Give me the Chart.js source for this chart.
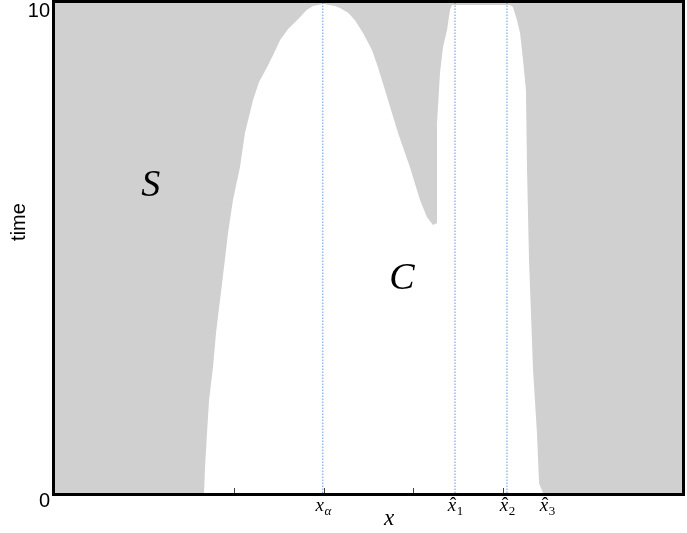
<!DOCTYPE html>
<html>
<head>
<meta charset="utf-8">
<script src="https://cdn.jsdelivr.net/npm/chart.js@4"></script>
<style>
  html, body { margin: 0; padding: 0; background: #fff; }
  #wrap { width: 687px; height: 533px; }
</style>
</head>
<body>
<div id="wrap"><canvas id="chart"></canvas></div>
<script>
const GRAY = '#d0d0d0';
const DOT_COLOR = 'rgba(70, 135, 215, 0.85)';

// upper edge of the white region C (below it), gray region S above
const boundaryX = [1.664, 1.675, 1.697, 1.720, 1.764, 1.798, 1.842, 1.887, 1.932, 1.987, 2.065, 2.121, 2.211, 2.278, 2.367, 2.446, 2.512, 2.602, 2.702, 2.813, 2.880, 2.992, 3.126,
  3.182, 3.272, 3.349, 3.439, 3.539, 3.606, 3.718, 3.829, 3.963, 4.075, 4.153, 4.220, 4.265, 4.265, 4.298, 4.332, 4.377, 4.410, 4.432,
  5.080, 5.113, 5.158, 5.192, 5.225, 5.258, 5.270, 5.292, 5.337, 5.381, 5.404, 5.448];
const boundaryT = [0, 0.53, 1.22, 1.90, 2.57, 3.27, 3.94, 4.61, 5.31, 5.98, 6.65, 7.35, 8.02, 8.39, 8.69, 8.98, 9.24, 9.47, 9.65, 9.86, 9.94, 9.98, 9.94,
  9.90, 9.80, 9.65, 9.39, 9.04, 8.69, 8.02, 7.35, 6.65, 5.98, 5.63, 5.47, 5.51, 7.55, 8.57, 9.10, 9.45, 9.86, 9.96,
  9.96, 9.92, 9.65, 9.39, 8.84, 8.22, 6.59, 4.76, 2.51, 1.22, 0.20, 0];

const markerNames = ['α', '1', '2', '3'];
const markerHat = [false, true, true, true];
const markerX = [2.99, 4.466, 5.046, 5.493];
const dottedMarkers = [0, 1, 2];

const xTicks = [2, 3, 4, 5];
const yTicks = [0, 10];
const xMin = 0, xMax = 7, tMin = 0, tMax = 10;

const regionNames = ['S', 'C'];
const regionX = [1.07, 3.874];
const regionT = [6.27, 4.37];

const datasets = [
  {
    data: boundaryX.map((x, i) => ({ x, y: boundaryT[i] })),
    borderWidth: 0,
    borderColor: 'rgba(0,0,0,0)',
    backgroundColor: '#ffffff',
    fill: 'origin',
    pointRadius: 0,
    order: 2,
  },
  ...dottedMarkers.map((i) => ({
    data: [{ x: markerX[i], y: tMin }, { x: markerX[i], y: tMax }],
    borderColor: DOT_COLOR,
    borderWidth: 1,
    borderDash: [1.5, 1.5],
    pointRadius: 0,
    fill: false,
    order: 1,
  })),
];

const decor = {
  id: 'decor',
  beforeDraw(chart) {
    const { ctx, chartArea: a } = chart;
    ctx.save();
    ctx.fillStyle = GRAY;
    ctx.fillRect(a.left, a.top, a.right - a.left, a.bottom - a.top);
    ctx.restore();
  },
  afterDraw(chart) {
    const { ctx, chartArea: a, scales } = chart;
    const xs = scales.x, ys = scales.y;
    ctx.save();

    // ticks pointing inward
    ctx.strokeStyle = '#444';
    ctx.lineWidth = 1;
    xTicks.forEach((v) => {
      const px = Math.round(xs.getPixelForValue(v)) + 0.5;
      ctx.beginPath();
      ctx.moveTo(px, a.bottom);
      ctx.lineTo(px, a.bottom - 5);
      ctx.stroke();
    });

    // frame
    ctx.strokeStyle = '#000';
    ctx.lineWidth = 3;
    ctx.strokeRect(a.left - 1.5, a.top - 1.5, a.right - a.left + 3, a.bottom - a.top + 3);

    // y tick labels
    ctx.fillStyle = '#000';
    ctx.font = '20px "Liberation Sans", Arial, sans-serif';
    ctx.textAlign = 'right';
    ctx.textBaseline = 'middle';
    yTicks.forEach((v) => {
      ctx.fillText(String(v), a.left - 5, ys.getPixelForValue(v) + 8);
    });

    // y title
    ctx.save();
    ctx.translate(19, (a.top + a.bottom) / 2 - 26);
    ctx.rotate(-Math.PI / 2);
    ctx.textAlign = 'center';
    ctx.font = '20px "Liberation Sans", Arial, sans-serif';
    ctx.fillText('time', 0, 0);
    ctx.restore();

    // x marker labels
    ctx.textBaseline = 'alphabetic';
    markerX.forEach((v, i) => {
      const cx = xs.getPixelForValue(v);
      const base = a.bottom + 18;
      ctx.font = 'italic 19px "Liberation Serif", "DejaVu Serif", serif';
      const w = ctx.measureText('x').width;
      const left = cx - w / 2 - 3;
      ctx.textAlign = 'left';
      ctx.fillText('x', left, base);
      if (markerHat[i]) {
        ctx.font = '20px "Liberation Serif", "DejaVu Serif", serif';
        ctx.textAlign = 'center';
        ctx.fillText('ˆ', left + w / 2 + 1, base + 1);
      }
      ctx.textAlign = 'left';
      ctx.font = (markerHat[i] ? '' : 'italic ') + '13px "Liberation Serif", "DejaVu Serif", serif';
      ctx.fillText(markerNames[i], left + w + 0.5, base + 4);
    });

    // x title
    ctx.font = 'italic 23px "Liberation Serif", "DejaVu Serif", serif';
    ctx.textAlign = 'center';
    ctx.fillText('x', xs.getPixelForValue(3.73), a.bottom + 32);

    // region names
    ctx.font = 'italic 38px "Liberation Serif", "DejaVu Serif", serif';
    ctx.textBaseline = 'middle';
    regionNames.forEach((n, i) => {
      ctx.fillText(n, xs.getPixelForValue(regionX[i]), ys.getPixelForValue(regionT[i]));
    });

    ctx.restore();
  },
};

new Chart(document.getElementById('chart'), {
  type: 'line',
  data: { datasets },
  options: {
    responsive: true,
    maintainAspectRatio: false,
    animation: false,
    layout: { padding: { left: 55, right: 5, top: 3, bottom: 40 } },
    elements: { line: { tension: 0 } },
    scales: {
      x: { type: 'linear', min: xMin, max: xMax, display: false },
      y: { type: 'linear', min: tMin, max: tMax, display: false },
    },
    plugins: {
      legend: { display: false },
      tooltip: { enabled: false },
    },
  },
  plugins: [decor],
});
</script>
</body>
</html>
